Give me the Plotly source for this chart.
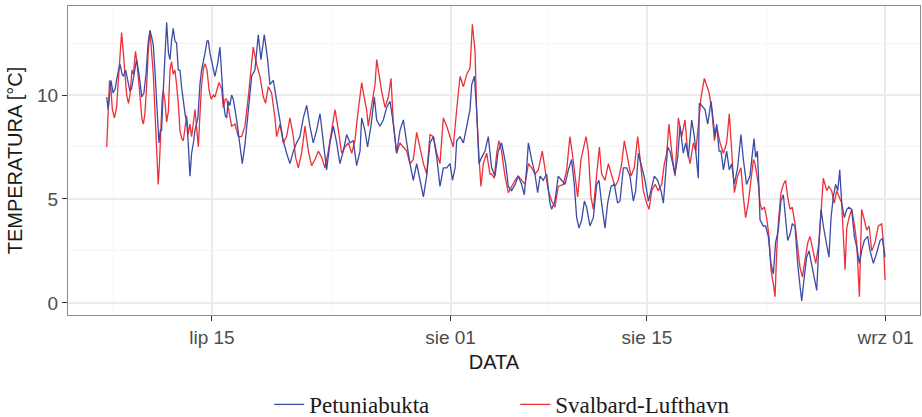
import pandas as pd
import plotly.graph_objects as go

# ---- data: days after 15 July (fractional), temperature in degC ----
petunia_day = [
    -7.5, -7.4, -7.3, -7.2, -7.05, -6.9, -6.75, -6.56, -6.4, -6.3, -6.15, -6.0, -5.85, -5.73, -5.55, -5.37,
    -5.2, -5.0, -4.85, -4.7, -4.55, -4.42, -4.3, -4.18, -4.05, -3.94, -3.85, -3.78, -3.68, -3.59, -3.47, -3.35,
    -3.23, -3.1, -2.99, -2.88, -2.76, -2.64, -2.52, -2.4, -2.28, -2.15, -2.04, -1.9, -1.81, -1.7, -1.57, -1.45,
    -1.3, -1.21, -1.0, -0.86, -0.74, -0.6, -0.5, -0.35, -0.26, -0.14, 0.0, 0.21, 0.4, 0.57, 0.69, 0.81, 0.95,
    1.05, 1.16, 1.28,
    1.4, 1.52, 1.76, 2.0, 2.16, 2.35, 2.59, 2.83, 3.06, 3.3, 3.49, 3.73, 3.97, 4.13, 4.37, 4.61, 4.85, 5.08,
    5.32, 5.56, 5.8, 6.03, 6.27, 6.51, 6.75, 6.98, 7.22, 7.46, 7.7, 7.94, 8.17, 8.41, 8.65, 8.89, 9.12, 9.36,
    9.6, 9.84, 10.07, 10.31, 10.55,
    10.67, 10.9, 11.09, 11.33, 11.57, 11.74, 11.97, 12.21, 12.45, 12.69, 12.93, 13.16, 13.4, 13.64, 13.88,
    14.11, 14.35, 14.59, 14.83, 15.07, 15.3, 15.54, 15.78, 16.02, 16.25, 16.49, 16.73, 16.97, 17.14, 17.33,
    17.44, 17.68, 17.92, 18.16, 18.39, 18.51, 18.7, 18.86, 19.03, 19.22, 19.46, 19.69,
    19.93, 20.17, 20.4, 20.64, 20.76, 20.93, 21.12, 21.36, 21.6, 21.83, 22.07, 22.26, 22.43, 22.55, 22.78,
    23.02, 23.21, 23.38, 23.61, 23.85, 24.09, 24.21, 24.44, 24.68, 24.92, 25.16, 25.4, 25.63, 25.82, 25.99,
    26.16, 26.35, 26.54, 26.7, 26.94, 27.18, 27.42, 27.58, 27.77, 28.01, 28.2, 28.44, 28.67, 28.91, 29.08,
    29.32, 29.55, 29.79, 30.03, 30.2, 30.39, 30.62, 30.86, 31.1, 31.34, 31.53, 31.76, 32.0, 32.17, 32.29,
    32.48, 32.64, 32.81, 33.0, 33.19, 33.36, 33.59, 33.76, 33.95, 34.19, 34.38, 34.54, 34.66, 34.73, 34.9,
    35.14, 35.33, 35.57, 35.73, 35.85, 35.97, 36.14, 36.28, 36.45, 36.68, 36.87, 37.04, 37.23, 37.46, 37.7,
    37.87, 38.1, 38.34,
    38.51, 38.63, 38.75, 38.87, 38.98, 39.06, 39.29, 39.46, 39.65, 39.84, 40.01, 40.17, 40.36, 40.55, 40.72,
    40.88, 41.03, 41.2, 41.36, 41.55, 41.74, 41.91, 42.03, 42.22, 42.38, 42.55, 42.74, 42.91, 43.1, 43.26,
    43.41, 43.57, 43.81, 43.97, 44.12, 44.28, 44.45, 44.6, 44.74, 44.88, 45.07, 45.24, 45.4, 45.59, 45.78,
    45.95, 46.14, 46.3, 46.49, 46.73, 46.9, 47.14, 47.37, 47.61, 47.78, 47.97,
]
petunia_temp = [
    9.9, 9.3, 10.0, 10.7, 10.1, 10.3, 10.9, 11.5, 11.0, 10.9, 11.2, 10.6, 10.2, 10.3, 11.0, 11.7,
    11.0, 9.9, 10.1, 11.0, 12.5, 13.1, 12.8, 12.4, 11.0, 9.7, 8.5, 7.7, 8.3, 8.3, 10.2, 12.0,
    13.5, 12.0, 11.7, 12.6, 13.2, 12.6, 12.5, 11.2, 11.2, 10.3, 9.7, 9.0, 8.8, 7.8, 6.1, 7.2,
    7.8, 8.3, 8.9, 10.5, 11.2, 11.8, 12.0, 12.6, 12.6, 12.0, 11.5, 10.9, 11.5, 12.3, 11.0, 9.7, 9.0,
    8.9, 9.7, 9.5,
    10.0, 9.8, 8.8, 7.5, 6.7, 7.6, 9.3, 10.9, 11.2, 12.9, 11.7, 12.9, 11.7, 10.5, 10.7, 9.7, 8.8, 7.8,
    7.2, 6.7, 7.3, 7.7, 8.0, 8.9, 9.5, 8.5, 7.7, 8.3, 9.1, 7.7, 6.4, 7.7, 8.5, 7.7, 6.7, 7.3,
    8.1, 7.7, 7.8, 6.6, 7.3,
    8.9, 8.3, 7.5, 8.5, 9.9, 8.8, 8.5, 8.8, 9.4, 9.7, 8.6, 7.2, 8.3, 8.8, 7.7,
    6.7, 5.9, 6.7, 5.9, 5.1, 6.1, 7.7, 8.0, 7.0, 5.6, 6.5, 6.5, 6.7, 5.9, 6.5,
    7.8, 8.0, 7.7, 8.6, 9.3, 10.5, 10.9, 9.3, 6.7, 7.0, 7.3, 8.0,
    6.5, 6.1, 7.3, 7.7, 7.3, 6.7, 5.6, 5.4, 5.7, 6.1, 5.7, 5.2, 6.5, 7.7, 6.9,
    6.2, 5.3, 6.1, 5.9, 6.2, 4.8, 4.5, 4.9, 6.1, 5.9, 5.7, 6.4, 6.9, 5.7, 4.1,
    3.6, 4.0, 4.9, 4.6, 3.7, 4.1, 5.7, 5.9, 4.8, 3.6, 4.8, 5.6, 5.7, 4.8, 4.9,
    6.5, 6.5, 6.1, 4.9, 5.4, 7.2, 6.5, 5.9, 4.9, 5.6, 6.1, 5.9, 5.4, 4.8, 5.9,
    7.5, 7.3, 6.7, 6.2, 7.0, 8.5, 7.2, 7.7, 7.0, 8.8, 8.0, 7.0, 6.0, 9.6, 9.5,
    9.3, 8.6, 9.7, 8.6, 8.0, 8.6, 7.3, 7.3, 6.4, 7.3, 6.4, 6.7, 5.7, 6.5, 8.1,
    6.9, 5.7, 6.1,
    7.3, 7.9, 7.0, 7.3, 5.6, 4.0, 3.7, 3.7, 3.2, 1.9, 1.4, 2.9, 3.5, 4.9, 5.2,
    4.1, 3.0, 3.3, 3.8, 3.7, 1.9, 0.8, 0.1, 1.3, 2.2, 2.5, 1.9, 1.3, 0.6, 2.9,
    4.5, 3.7, 2.9, 2.2, 4.1, 5.1, 5.7, 5.4, 6.4, 4.8, 4.1, 4.5, 4.6, 4.5, 3.2,
    2.7, 1.9, 2.5, 3.0, 3.2, 2.5, 1.9, 2.4, 3.0, 3.1, 2.2,
]

svalbard_day = [
    -7.5, -7.45, -7.4, -7.3, -7.2, -7.1, -6.95, -6.8, -6.65, -6.5, -6.44, -6.35, -6.2, -6.08, -5.95, -5.84,
    -5.7, -5.6, -5.45, -5.35, -5.2, -5.0, -4.89, -4.78, -4.65, -4.55, -4.42, -4.3, -4.18, -4.05, -3.94, -3.83,
    -3.75, -3.65, -3.55, -3.47, -3.35, -3.23, -3.11, -2.99, -2.88, -2.76, -2.64, -2.52, -2.4, -2.28, -2.15,
    -2.04, -1.9, -1.81, -1.7, -1.57, -1.45, -1.3, -1.21, -1.1, -0.97, -0.86, -0.74, -0.6, -0.5, -0.35, -0.2,
    -0.05, 0.1, 0.21, 0.35, 0.5, 0.69, 0.81, 0.95, 1.05, 1.16, 1.28,
    1.4, 1.64, 1.88, 2.11, 2.35, 2.59, 2.78, 2.94, 3.18, 3.42, 3.66, 3.82, 4.01, 4.25, 4.49, 4.61, 4.85,
    5.08, 5.32, 5.56, 5.8, 5.96, 6.15, 6.39, 6.63, 6.87, 7.1, 7.34, 7.58, 7.82, 8.05, 8.29, 8.53, 8.77,
    9.01, 9.24, 9.48, 9.72, 9.96, 10.19, 10.36, 10.55,
    10.67, 10.79, 11.02, 11.14, 11.38, 11.62, 11.74, 11.9, 12.09, 12.33, 12.57, 12.76, 12.93, 13.16, 13.4,
    13.64, 13.88, 14.11, 14.35, 14.59, 14.83, 15.07, 15.3, 15.54, 15.78, 16.02, 16.25, 16.49, 16.73, 16.97,
    17.2, 17.44, 17.68, 17.92, 18.16, 18.39, 18.56, 18.75, 18.86, 19.03, 19.17, 19.34, 19.58, 19.81,
    19.93, 20.12, 20.29, 20.45, 20.64, 20.88, 21.12, 21.36, 21.6, 21.83, 22.07, 22.31, 22.55, 22.78, 23.02,
    23.26, 23.54, 23.73, 23.97, 24.21, 24.44, 24.68, 25.04, 25.28, 25.51, 25.68, 25.87, 26.06, 26.3, 26.47,
    26.66, 26.82, 27.01, 27.18, 27.42, 27.61, 27.77, 28.01, 28.25, 28.49, 28.72, 28.96,
    29.2, 29.39, 29.63, 29.86, 30.1, 30.34, 30.5, 30.74, 30.98, 31.15, 31.34, 31.58, 31.81, 32.05, 32.24,
    32.41, 32.57, 32.76, 33.0, 33.24, 33.48, 33.71, 33.9, 34.07, 34.31, 34.48, 34.66, 34.86, 35.09, 35.26,
    35.43, 35.62, 35.81, 35.97, 36.21, 36.45, 36.68, 36.87, 37.04, 37.23, 37.46, 37.7, 37.87, 38.03, 38.22,
    38.34,
    38.59, 38.7, 38.82, 38.94, 39.06, 39.18, 39.37, 39.53, 39.7, 39.84, 40.01, 40.13, 40.25, 40.36, 40.55,
    40.72, 40.88, 41.03, 41.2, 41.36, 41.55, 41.74, 41.91, 42.08, 42.27, 42.46, 42.62, 42.86, 43.03, 43.26,
    43.45, 43.57, 43.81, 43.97, 44.16, 44.35, 44.52, 44.69, 44.88, 45.12, 45.24, 45.4, 45.59, 45.78, 45.95,
    46.14, 46.3, 46.49, 46.66, 46.83, 47.02, 47.25, 47.49, 47.73, 47.85, 47.97,
]
svalbard_temp = [
    7.5, 8.3, 9.3, 10.7, 10.3, 9.3, 8.9, 9.4, 10.9, 12.2, 13.0, 12.3, 10.8, 10.0, 9.6, 10.0,
    11.2, 11.0, 12.1, 11.6, 10.5, 8.9, 8.6, 9.1, 10.5, 12.0, 13.1, 12.2, 11.0, 9.0, 7.0, 5.7,
    6.6, 8.3, 9.8, 10.2, 9.7, 8.7, 9.2, 11.2, 11.6, 11.0, 11.2, 10.5, 9.6, 8.3, 7.9,
    7.8, 8.6, 9.0, 8.1, 8.6, 8.0, 8.7, 9.3, 8.5, 7.5, 9.0, 10.5, 11.3, 11.5, 11.2, 10.2,
    9.8, 10.0, 9.9, 10.3, 10.6, 10.3, 9.4, 9.8, 9.8, 9.4, 8.9,
    8.5, 8.6, 8.0, 8.0, 8.5, 9.9, 11.2, 12.3, 11.5, 10.9, 9.9, 9.6, 10.4, 10.1, 8.9, 8.0, 8.6,
    7.7, 8.0, 8.9, 8.0, 7.0, 6.5, 7.2, 8.5, 7.3, 6.6, 6.9, 7.3, 7.0, 6.5, 7.3, 8.3, 9.3,
    8.3, 7.2, 7.5, 7.7, 7.2, 7.8, 8.9, 10.1,
    10.6, 10.1, 9.3, 8.5, 9.6, 10.5, 11.7, 10.9, 10.2, 9.4, 9.9, 10.8, 8.6, 7.2, 7.7,
    7.5, 7.3, 6.7, 6.9, 8.2, 7.5, 6.7, 6.2, 8.1, 8.0, 7.2, 6.7, 8.9, 8.5, 8.0,
    7.5, 9.3, 10.9, 10.4, 11.0, 11.3, 13.4, 12.1, 9.3, 7.0, 5.6, 6.7, 7.2, 6.2,
    6.2, 6.0, 7.2, 7.8, 7.3, 6.1, 5.3, 5.6, 5.9, 6.1, 5.9, 5.7, 6.7, 6.5, 6.2,
    6.4, 7.3, 6.5, 5.4, 4.9, 4.6, 5.6, 5.7, 6.4, 8.0, 7.2, 6.1, 5.1, 6.9, 7.5,
    8.0, 7.3, 5.1, 4.5, 6.1, 7.5, 6.2, 5.9, 6.7, 6.1, 5.6, 5.9,
    6.7, 7.8, 7.0, 6.1, 6.5, 8.0, 7.0, 5.4, 4.8, 4.5, 5.4, 5.7, 5.4, 5.7, 6.7,
    7.2, 8.6, 7.3, 6.1, 8.9, 8.0, 8.8, 7.3, 6.7, 7.7, 7.3, 8.5, 9.9, 10.8, 10.4,
    10.1, 9.3, 7.8, 8.5, 7.7, 7.2, 7.7, 9.1, 7.3, 5.3, 6.1, 6.5, 5.1, 4.1, 4.8,
    5.4,
    6.9, 6.7, 6.2, 5.7, 4.8, 4.5, 4.6, 4.1, 3.2, 1.6, 0.9, 0.3, 2.5, 3.8, 5.3,
    5.7, 5.9, 5.1, 4.5, 4.6, 3.8, 2.5, 1.7, 1.25, 2.2, 2.9, 3.2, 2.5, 1.9, 2.9,
    4.9, 6.0, 5.4, 5.6, 5.4, 4.8, 5.4, 5.1, 4.8, 1.6, 3.6, 4.1, 4.5, 3.8, 2.9,
    0.3, 4.5, 4.0, 3.5, 3.7, 2.5, 2.9, 3.7, 3.8, 2.9, 1.1,
]

series_names = ["Petuniabukta", "Svalbard-Lufthavn"]
series_colors = ["#3B4CA6", "#EE2F38"]
tick_days = [0, 17, 31, 48]
tick_labels = ["lip 15", "sie 01", "sie 15", "wrz 01"]
minor_days = [-7, 8.5, 24, 39.5]

BASE = pd.Timestamp("2016-07-15")


def to_dates(days):
    return BASE + pd.to_timedelta(pd.Series(days, dtype=float), unit="D")


fig = go.Figure()
# red drawn first, blue on top
fig.add_trace(go.Scatter(
    x=to_dates(svalbard_day), y=svalbard_temp, mode="lines", name=series_names[1],
    line=dict(color=series_colors[1], width=1.3), legendrank=2,
))
fig.add_trace(go.Scatter(
    x=to_dates(petunia_day), y=petunia_temp, mode="lines", name=series_names[0],
    line=dict(color=series_colors[0], width=1.3), legendrank=1,
))

tick_font = dict(family="Liberation Sans, Arial, sans-serif", size=19, color="#4D4D4D")
title_font = dict(family="Liberation Sans, Arial, sans-serif", size=20, color="#1A1A1A")

fig.update_layout(
    width=922, height=417,
    margin=dict(l=68, r=2, t=6, b=102),
    paper_bgcolor="white", plot_bgcolor="white",
    showlegend=True,
    legend=dict(
        orientation="h", xref="container", yref="container",
        x=0.292, y=0.03, xanchor="left", yanchor="middle",
        font=dict(family="Liberation Serif, Times New Roman, serif", size=23, color="#1A1A1A"),
        entrywidth=201, entrywidthmode="pixels", bgcolor="rgba(0,0,0,0)",
    ),
)

fig.update_xaxes(
    type="date",
    range=[BASE + pd.Timedelta(days=-10.26), BASE + pd.Timedelta(days=50.46)],
    tickmode="array",
    tickvals=list(to_dates(tick_days)),
    ticktext=tick_labels,
    ticks="outside", ticklen=5, tickwidth=1, tickcolor="#333333",
    tickfont=tick_font,
    showgrid=True, gridcolor="#EBEBEB", gridwidth=1.5,
    minor=dict(tickmode="array", tickvals=list(to_dates(minor_days)), showgrid=True,
               gridcolor="#F5F5F5", gridwidth=1, ticks=""),
    showline=True, linecolor="#8C8C8C", linewidth=1.3, mirror=True,
    zeroline=False,
    title=dict(text="DATA", font=title_font, standoff=8),
)
fig.update_yaxes(
    range=[-0.58, 14.28],
    tickmode="array", tickvals=[0, 5, 10], ticktext=["0", "5", "10"],
    ticks="outside", ticklen=5, tickwidth=1, tickcolor="#333333",
    tickfont=tick_font,
    showgrid=True, gridcolor="#EBEBEB", gridwidth=1.5,
    minor=dict(tickmode="array", tickvals=[2.5, 7.5, 12.5], showgrid=True,
               gridcolor="#F5F5F5", gridwidth=1, ticks=""),
    showline=True, linecolor="#8C8C8C", linewidth=1.3, mirror=True,
    zeroline=False,
    title=dict(text="TEMPERATURA [°C]", font=title_font, standoff=8),
)

fig.write_html("out.html")
